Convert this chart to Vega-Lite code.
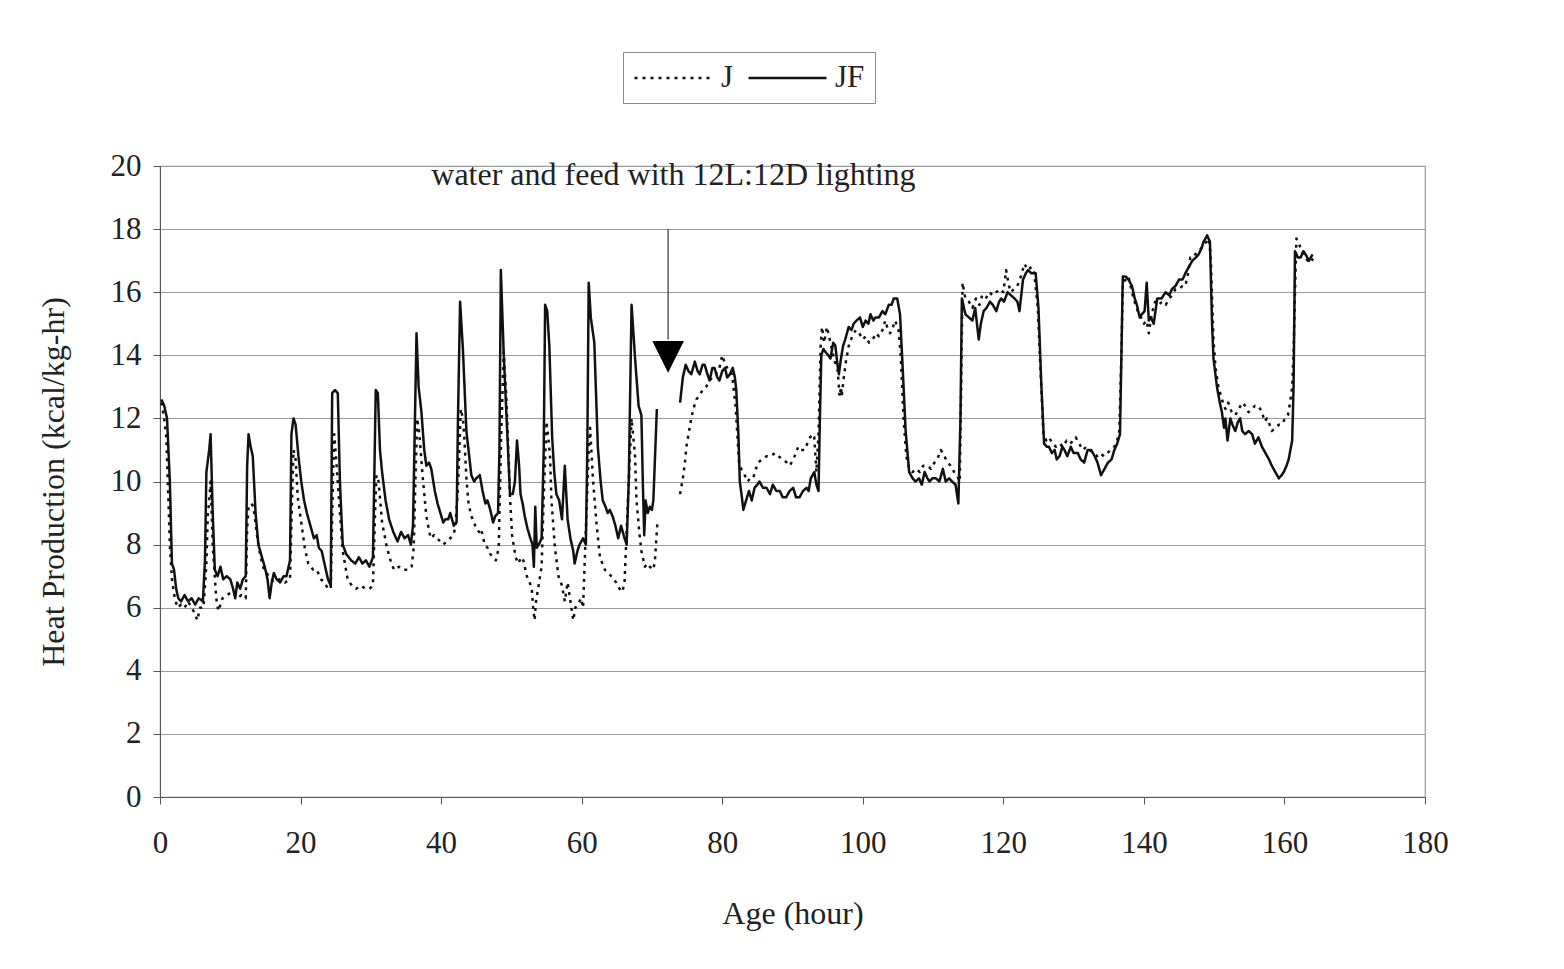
{
  "$schema": "https://vega.github.io/schema/vega-lite/v6.json",
  "autosize": "none",
  "width": 1265,
  "height": 631,
  "padding": {"left": 160, "top": 166, "right": 139, "bottom": 172},
  "background": "white",
  "config": {
    "view": {"stroke": "#999", "strokeWidth": 1.2},
    "font": "Liberation Serif",
    "axis": {
      "labelFont": "Liberation Serif",
      "titleFont": "Liberation Serif",
      "labelFontSize": 31,
      "titleFontSize": 32,
      "titleFontWeight": "normal",
      "labelColor": "#222",
      "titleColor": "#222",
      "domainColor": "#555",
      "tickColor": "#555",
      "tickSize": 7
    },
    "legend": {
      "labelFont": "Liberation Serif",
      "labelFontSize": 31,
      "labelColor": "#222"
    }
  },
  "datasets": {
    "hp": [
{"series":"JF","part":1,"age":0.2,"heat":12.6},{"series":"JF","part":1,"age":0.6,"heat":12.4},{"series":"JF","part":1,"age":1.0,"heat":12.0},{"series":"JF","part":1,"age":1.4,"heat":10.0},{"series":"JF","part":1,"age":1.7,"heat":7.4},{"series":"JF","part":1,"age":2.0,"heat":7.2},{"series":"JF","part":1,"age":2.3,"heat":6.6},{"series":"JF","part":1,"age":2.6,"heat":6.3},{"series":"JF","part":1,"age":3.0,"heat":6.2},{"series":"JF","part":1,"age":3.5,"heat":6.4},{"series":"JF","part":1,"age":4.0,"heat":6.2},{"series":"JF","part":1,"age":4.5,"heat":6.3},{"series":"JF","part":1,"age":5.0,"heat":6.1},{"series":"JF","part":1,"age":5.5,"heat":6.3},{"series":"JF","part":1,"age":6.1,"heat":6.2},{"series":"JF","part":1,"age":6.4,"heat":7.5},{"series":"JF","part":1,"age":6.6,"heat":10.3},{"series":"JF","part":1,"age":7.0,"heat":11.0},{"series":"JF","part":1,"age":7.2,"heat":11.5},{"series":"JF","part":1,"age":7.5,"heat":9.0},{"series":"JF","part":1,"age":7.8,"heat":7.2},{"series":"JF","part":1,"age":8.2,"heat":7.0},{"series":"JF","part":1,"age":8.6,"heat":7.3},{"series":"JF","part":1,"age":9.0,"heat":6.9},{"series":"JF","part":1,"age":9.5,"heat":7.0},{"series":"JF","part":1,"age":10.0,"heat":6.9},{"series":"JF","part":1,"age":10.4,"heat":6.6},{"series":"JF","part":1,"age":10.7,"heat":6.3},{"series":"JF","part":1,"age":11.0,"heat":6.8},{"series":"JF","part":1,"age":11.4,"heat":6.6},{"series":"JF","part":1,"age":11.8,"heat":6.9},{"series":"JF","part":1,"age":12.2,"heat":7.0},{"series":"JF","part":1,"age":12.4,"heat":10.5},{"series":"JF","part":1,"age":12.6,"heat":11.5},{"series":"JF","part":1,"age":12.9,"heat":11.1},{"series":"JF","part":1,"age":13.2,"heat":10.8},{"series":"JF","part":1,"age":13.6,"heat":9.0},{"series":"JF","part":1,"age":14.0,"heat":8.0},{"series":"JF","part":1,"age":14.5,"heat":7.6},{"series":"JF","part":1,"age":14.9,"heat":7.3},{"series":"JF","part":1,"age":15.3,"heat":6.9},{"series":"JF","part":1,"age":15.6,"heat":6.3},{"series":"JF","part":1,"age":15.9,"heat":6.8},{"series":"JF","part":1,"age":16.2,"heat":7.1},{"series":"JF","part":1,"age":16.6,"heat":6.9},{"series":"JF","part":1,"age":17.1,"heat":6.8},{"series":"JF","part":1,"age":17.6,"heat":7.0},{"series":"JF","part":1,"age":18.0,"heat":7.0},{"series":"JF","part":1,"age":18.5,"heat":7.5},{"series":"JF","part":1,"age":18.7,"heat":11.5},{"series":"JF","part":1,"age":19.0,"heat":12.0},{"series":"JF","part":1,"age":19.3,"heat":11.8},{"series":"JF","part":1,"age":19.7,"heat":10.8},{"series":"JF","part":1,"age":20.1,"heat":10.0},{"series":"JF","part":1,"age":20.5,"heat":9.4},{"series":"JF","part":1,"age":20.9,"heat":9.0},{"series":"JF","part":1,"age":21.4,"heat":8.6},{"series":"JF","part":1,"age":21.9,"heat":8.2},{"series":"JF","part":1,"age":22.3,"heat":8.3},{"series":"JF","part":1,"age":22.6,"heat":7.9},{"series":"JF","part":1,"age":23.0,"heat":7.8},{"series":"JF","part":1,"age":23.4,"heat":7.4},{"series":"JF","part":1,"age":23.9,"heat":6.9},{"series":"JF","part":1,"age":24.3,"heat":6.7},{"series":"JF","part":1,"age":24.5,"heat":12.8},{"series":"JF","part":1,"age":24.9,"heat":12.9},{"series":"JF","part":1,"age":25.3,"heat":12.8},{"series":"JF","part":1,"age":25.6,"heat":10.0},{"series":"JF","part":1,"age":26.0,"heat":8.0},{"series":"JF","part":1,"age":26.5,"heat":7.7},{"series":"JF","part":1,"age":27.2,"heat":7.5},{"series":"JF","part":1,"age":27.8,"heat":7.4},{"series":"JF","part":1,"age":28.3,"heat":7.6},{"series":"JF","part":1,"age":28.8,"heat":7.4},{"series":"JF","part":1,"age":29.3,"heat":7.5},{"series":"JF","part":1,"age":29.8,"heat":7.3},{"series":"JF","part":1,"age":30.3,"heat":7.6},{"series":"JF","part":1,"age":30.7,"heat":12.9},{"series":"JF","part":1,"age":31.0,"heat":12.8},{"series":"JF","part":1,"age":31.3,"heat":11.0},{"series":"JF","part":1,"age":31.6,"heat":10.3},{"series":"JF","part":1,"age":32.1,"heat":9.4},{"series":"JF","part":1,"age":32.6,"heat":8.8},{"series":"JF","part":1,"age":33.2,"heat":8.4},{"series":"JF","part":1,"age":33.8,"heat":8.1},{"series":"JF","part":1,"age":34.3,"heat":8.4},{"series":"JF","part":1,"age":34.8,"heat":8.2},{"series":"JF","part":1,"age":35.3,"heat":8.3},{"series":"JF","part":1,"age":35.7,"heat":8.0},{"series":"JF","part":1,"age":36.0,"heat":8.6},{"series":"JF","part":1,"age":36.5,"heat":14.7},{"series":"JF","part":1,"age":36.8,"heat":13.0},{"series":"JF","part":1,"age":37.2,"heat":12.2},{"series":"JF","part":1,"age":37.6,"heat":11.0},{"series":"JF","part":1,"age":37.9,"heat":10.5},{"series":"JF","part":1,"age":38.3,"heat":10.6},{"series":"JF","part":1,"age":38.6,"heat":10.4},{"series":"JF","part":1,"age":39.1,"heat":9.7},{"series":"JF","part":1,"age":39.5,"heat":9.3},{"series":"JF","part":1,"age":39.9,"heat":9.0},{"series":"JF","part":1,"age":40.3,"heat":8.7},{"series":"JF","part":1,"age":40.6,"heat":8.8},{"series":"JF","part":1,"age":41.0,"heat":8.8},{"series":"JF","part":1,"age":41.3,"heat":9.0},{"series":"JF","part":1,"age":41.8,"heat":8.6},{"series":"JF","part":1,"age":42.2,"heat":8.7},{"series":"JF","part":1,"age":42.4,"heat":12.0},{"series":"JF","part":1,"age":42.7,"heat":15.7},{"series":"JF","part":1,"age":43.1,"heat":14.2},{"series":"JF","part":1,"age":43.6,"heat":11.6},{"series":"JF","part":1,"age":44.0,"heat":10.8},{"series":"JF","part":1,"age":44.3,"heat":10.2},{"series":"JF","part":1,"age":44.7,"heat":10.0},{"series":"JF","part":1,"age":45.0,"heat":10.1},{"series":"JF","part":1,"age":45.5,"heat":10.2},{"series":"JF","part":1,"age":45.9,"heat":9.7},{"series":"JF","part":1,"age":46.3,"heat":9.3},{"series":"JF","part":1,"age":46.6,"heat":9.4},{"series":"JF","part":1,"age":47.0,"heat":9.1},{"series":"JF","part":1,"age":47.4,"heat":8.7},{"series":"JF","part":1,"age":47.7,"heat":8.9},{"series":"JF","part":1,"age":48.1,"heat":9.0},{"series":"JF","part":1,"age":48.3,"heat":11.0},{"series":"JF","part":1,"age":48.5,"heat":16.7},{"series":"JF","part":1,"age":48.9,"heat":14.1},{"series":"JF","part":1,"age":49.3,"heat":12.1},{"series":"JF","part":1,"age":49.8,"heat":9.6},{"series":"JF","part":1,"age":50.2,"heat":9.6},{"series":"JF","part":1,"age":50.5,"heat":10.0},{"series":"JF","part":1,"age":50.8,"heat":11.3},{"series":"JF","part":1,"age":51.1,"heat":10.5},{"series":"JF","part":1,"age":51.3,"heat":9.6},{"series":"JF","part":1,"age":51.6,"heat":9.3},{"series":"JF","part":1,"age":51.9,"heat":8.9},{"series":"JF","part":1,"age":52.3,"heat":8.5},{"series":"JF","part":1,"age":52.7,"heat":8.2},{"series":"JF","part":1,"age":53.0,"heat":8.0},{"series":"JF","part":1,"age":53.2,"heat":7.3},{"series":"JF","part":1,"age":53.4,"heat":9.2},{"series":"JF","part":1,"age":53.6,"heat":7.9},{"series":"JF","part":1,"age":53.9,"heat":8.0},{"series":"JF","part":1,"age":54.3,"heat":8.2},{"series":"JF","part":1,"age":54.6,"heat":11.0},{"series":"JF","part":1,"age":54.8,"heat":15.6},{"series":"JF","part":1,"age":55.1,"heat":15.4},{"series":"JF","part":1,"age":55.4,"heat":14.3},{"series":"JF","part":1,"age":55.8,"heat":11.4},{"series":"JF","part":1,"age":56.1,"heat":10.3},{"series":"JF","part":1,"age":56.4,"heat":9.6},{"series":"JF","part":1,"age":56.8,"heat":9.4},{"series":"JF","part":1,"age":57.2,"heat":8.8},{"series":"JF","part":1,"age":57.6,"heat":10.5},{"series":"JF","part":1,"age":58.0,"heat":8.8},{"series":"JF","part":1,"age":58.4,"heat":8.2},{"series":"JF","part":1,"age":58.8,"heat":7.8},{"series":"JF","part":1,"age":59.0,"heat":7.4},{"series":"JF","part":1,"age":59.4,"heat":7.8},{"series":"JF","part":1,"age":59.7,"heat":8.0},{"series":"JF","part":1,"age":60.2,"heat":8.2},{"series":"JF","part":1,"age":60.6,"heat":8.0},{"series":"JF","part":1,"age":60.8,"heat":11.0},{"series":"JF","part":1,"age":61.0,"heat":16.3},{"series":"JF","part":1,"age":61.3,"heat":15.2},{"series":"JF","part":1,"age":61.8,"heat":14.4},{"series":"JF","part":1,"age":62.3,"heat":11.1},{"series":"JF","part":1,"age":62.7,"heat":10.0},{"series":"JF","part":1,"age":63.0,"heat":9.4},{"series":"JF","part":1,"age":63.4,"heat":9.2},{"series":"JF","part":1,"age":63.7,"heat":9.0},{"series":"JF","part":1,"age":64.0,"heat":9.1},{"series":"JF","part":1,"age":64.4,"heat":8.9},{"series":"JF","part":1,"age":64.8,"heat":8.6},{"series":"JF","part":1,"age":65.2,"heat":8.2},{"series":"JF","part":1,"age":65.6,"heat":8.6},{"series":"JF","part":1,"age":66.1,"heat":8.2},{"series":"JF","part":1,"age":66.4,"heat":8.0},{"series":"JF","part":1,"age":66.7,"heat":10.0},{"series":"JF","part":1,"age":67.1,"heat":15.6},{"series":"JF","part":1,"age":67.6,"heat":13.9},{"series":"JF","part":1,"age":68.1,"heat":12.4},{"series":"JF","part":1,"age":68.5,"heat":12.1},{"series":"JF","part":1,"age":68.7,"heat":10.0},{"series":"JF","part":1,"age":68.9,"heat":8.3},{"series":"JF","part":1,"age":69.1,"heat":9.4},{"series":"JF","part":1,"age":69.4,"heat":9.0},{"series":"JF","part":1,"age":69.7,"heat":9.2},{"series":"JF","part":1,"age":70.0,"heat":9.1},{"series":"JF","part":1,"age":70.2,"heat":9.4},{"series":"JF","part":1,"age":70.7,"heat":12.3},
{"series":"JF","part":2,"age":74.0,"heat":12.5},{"series":"JF","part":2,"age":74.4,"heat":13.3},{"series":"JF","part":2,"age":74.8,"heat":13.7},{"series":"JF","part":2,"age":75.2,"heat":13.5},{"series":"JF","part":2,"age":75.6,"heat":13.4},{"series":"JF","part":2,"age":76.1,"heat":13.8},{"series":"JF","part":2,"age":76.5,"heat":13.5},{"series":"JF","part":2,"age":76.8,"heat":13.4},{"series":"JF","part":2,"age":77.2,"heat":13.7},{"series":"JF","part":2,"age":77.5,"heat":13.7},{"series":"JF","part":2,"age":77.9,"heat":13.4},{"series":"JF","part":2,"age":78.2,"heat":13.2},{"series":"JF","part":2,"age":78.6,"heat":13.6},{"series":"JF","part":2,"age":78.9,"heat":13.6},{"series":"JF","part":2,"age":79.3,"heat":13.3},{"series":"JF","part":2,"age":79.6,"heat":13.2},{"series":"JF","part":2,"age":80.0,"heat":13.5},{"series":"JF","part":2,"age":80.4,"heat":13.6},{"series":"JF","part":2,"age":80.7,"heat":13.3},{"series":"JF","part":2,"age":81.1,"heat":13.4},{"series":"JF","part":2,"age":81.5,"heat":13.6},{"series":"JF","part":2,"age":81.8,"heat":13.3},{"series":"JF","part":2,"age":82.0,"heat":12.9},{"series":"JF","part":2,"age":82.3,"heat":11.5},{"series":"JF","part":2,"age":82.5,"heat":10.0},{"series":"JF","part":2,"age":82.8,"heat":9.5},{"series":"JF","part":2,"age":83.0,"heat":9.1},{"series":"JF","part":2,"age":83.4,"heat":9.4},{"series":"JF","part":2,"age":83.8,"heat":9.7},{"series":"JF","part":2,"age":84.2,"heat":9.4},{"series":"JF","part":2,"age":84.6,"heat":9.8},{"series":"JF","part":2,"age":85.0,"heat":9.9},{"series":"JF","part":2,"age":85.3,"heat":10.0},{"series":"JF","part":2,"age":85.8,"heat":9.8},{"series":"JF","part":2,"age":86.3,"heat":9.8},{"series":"JF","part":2,"age":86.8,"heat":9.6},{"series":"JF","part":2,"age":87.2,"heat":9.9},{"series":"JF","part":2,"age":87.7,"heat":9.7},{"series":"JF","part":2,"age":88.2,"heat":9.7},{"series":"JF","part":2,"age":88.6,"heat":9.5},{"series":"JF","part":2,"age":89.1,"heat":9.5},{"series":"JF","part":2,"age":89.6,"heat":9.7},{"series":"JF","part":2,"age":90.1,"heat":9.8},{"series":"JF","part":2,"age":90.5,"heat":9.5},{"series":"JF","part":2,"age":91.0,"heat":9.5},{"series":"JF","part":2,"age":91.5,"heat":9.7},{"series":"JF","part":2,"age":92.0,"heat":9.8},{"series":"JF","part":2,"age":92.3,"heat":9.7},{"series":"JF","part":2,"age":92.6,"heat":10.1},{"series":"JF","part":2,"age":93.1,"heat":10.3},{"series":"JF","part":2,"age":93.4,"heat":9.9},{"series":"JF","part":2,"age":93.7,"heat":9.7},{"series":"JF","part":2,"age":93.9,"heat":12.0},{"series":"JF","part":2,"age":94.1,"heat":14.0},{"series":"JF","part":2,"age":94.4,"heat":14.2},{"series":"JF","part":2,"age":94.7,"heat":14.1},{"series":"JF","part":2,"age":95.1,"heat":14.0},{"series":"JF","part":2,"age":95.4,"heat":13.9},{"series":"JF","part":2,"age":95.8,"heat":14.4},{"series":"JF","part":2,"age":96.1,"heat":14.3},{"series":"JF","part":2,"age":96.4,"heat":13.7},{"series":"JF","part":2,"age":96.6,"heat":13.4},{"series":"JF","part":2,"age":96.9,"heat":13.9},{"series":"JF","part":2,"age":97.2,"heat":14.3},{"series":"JF","part":2,"age":97.5,"heat":14.5},{"series":"JF","part":2,"age":98.0,"heat":14.9},{"series":"JF","part":2,"age":98.4,"heat":14.8},{"series":"JF","part":2,"age":98.7,"heat":15.0},{"series":"JF","part":2,"age":99.1,"heat":15.1},{"series":"JF","part":2,"age":99.6,"heat":15.2},{"series":"JF","part":2,"age":100.0,"heat":14.9},{"series":"JF","part":2,"age":100.4,"heat":15.1},{"series":"JF","part":2,"age":100.8,"heat":15.0},{"series":"JF","part":2,"age":101.1,"heat":15.3},{"series":"JF","part":2,"age":101.5,"heat":15.1},{"series":"JF","part":2,"age":101.8,"heat":15.2},{"series":"JF","part":2,"age":102.3,"heat":15.2},{"series":"JF","part":2,"age":102.8,"heat":15.4},{"series":"JF","part":2,"age":103.2,"heat":15.3},{"series":"JF","part":2,"age":103.7,"heat":15.6},{"series":"JF","part":2,"age":104.1,"heat":15.6},{"series":"JF","part":2,"age":104.4,"heat":15.8},{"series":"JF","part":2,"age":104.9,"heat":15.8},{"series":"JF","part":2,"age":105.3,"heat":15.3},{"series":"JF","part":2,"age":105.7,"heat":13.5},{"series":"JF","part":2,"age":106.1,"heat":11.6},{"series":"JF","part":2,"age":106.6,"heat":10.3},{"series":"JF","part":2,"age":107.1,"heat":10.1},{"series":"JF","part":2,"age":107.5,"heat":10.0},{"series":"JF","part":2,"age":108.0,"heat":10.1},{"series":"JF","part":2,"age":108.4,"heat":9.9},{"series":"JF","part":2,"age":108.8,"heat":10.3},{"series":"JF","part":2,"age":109.2,"heat":10.1},{"series":"JF","part":2,"age":109.5,"heat":10.0},{"series":"JF","part":2,"age":109.9,"heat":10.1},{"series":"JF","part":2,"age":110.4,"heat":10.1},{"series":"JF","part":2,"age":110.9,"heat":10.0},{"series":"JF","part":2,"age":111.4,"heat":10.4},{"series":"JF","part":2,"age":111.8,"heat":10.0},{"series":"JF","part":2,"age":112.3,"heat":10.1},{"series":"JF","part":2,"age":112.7,"heat":10.0},{"series":"JF","part":2,"age":113.2,"heat":9.9},{"series":"JF","part":2,"age":113.6,"heat":9.3},{"series":"JF","part":2,"age":113.9,"heat":12.0},{"series":"JF","part":2,"age":114.1,"heat":15.8},{"series":"JF","part":2,"age":114.4,"heat":15.5},{"series":"JF","part":2,"age":114.6,"heat":15.3},{"series":"JF","part":2,"age":115.1,"heat":15.2},{"series":"JF","part":2,"age":115.6,"heat":15.1},{"series":"JF","part":2,"age":116.0,"heat":15.5},{"series":"JF","part":2,"age":116.5,"heat":14.5},{"series":"JF","part":2,"age":116.8,"heat":15.0},{"series":"JF","part":2,"age":117.2,"heat":15.4},{"series":"JF","part":2,"age":117.6,"heat":15.5},{"series":"JF","part":2,"age":118.1,"heat":15.7},{"series":"JF","part":2,"age":118.5,"heat":15.6},{"series":"JF","part":2,"age":119.0,"heat":15.4},{"series":"JF","part":2,"age":119.4,"heat":15.7},{"series":"JF","part":2,"age":119.7,"heat":15.8},{"series":"JF","part":2,"age":120.1,"heat":15.7},{"series":"JF","part":2,"age":120.6,"heat":16.0},{"series":"JF","part":2,"age":121.1,"heat":15.9},{"series":"JF","part":2,"age":121.6,"heat":15.8},{"series":"JF","part":2,"age":122.0,"heat":15.7},{"series":"JF","part":2,"age":122.3,"heat":15.4},{"series":"JF","part":2,"age":122.8,"heat":16.4},{"series":"JF","part":2,"age":123.2,"heat":16.6},{"series":"JF","part":2,"age":123.5,"heat":16.7},{"series":"JF","part":2,"age":124.0,"heat":16.6},{"series":"JF","part":2,"age":124.6,"heat":16.6},{"series":"JF","part":2,"age":125.0,"heat":15.5},{"series":"JF","part":2,"age":125.4,"heat":13.1},{"series":"JF","part":2,"age":125.8,"heat":11.2},{"series":"JF","part":2,"age":126.2,"heat":11.1},{"series":"JF","part":2,"age":126.5,"heat":11.1},{"series":"JF","part":2,"age":126.9,"heat":10.9},{"series":"JF","part":2,"age":127.3,"heat":11.0},{"series":"JF","part":2,"age":127.6,"heat":10.7},{"series":"JF","part":2,"age":128.0,"heat":10.8},{"series":"JF","part":2,"age":128.4,"heat":11.1},{"series":"JF","part":2,"age":128.7,"heat":11.0},{"series":"JF","part":2,"age":129.1,"heat":10.8},{"series":"JF","part":2,"age":129.6,"heat":11.1},{"series":"JF","part":2,"age":130.0,"heat":10.9},{"series":"JF","part":2,"age":130.6,"heat":10.9},{"series":"JF","part":2,"age":131.0,"heat":10.7},{"series":"JF","part":2,"age":131.5,"heat":10.6},{"series":"JF","part":2,"age":132.0,"heat":11.0},{"series":"JF","part":2,"age":132.5,"heat":11.0},{"series":"JF","part":2,"age":133.0,"heat":10.8},{"series":"JF","part":2,"age":133.4,"heat":10.6},{"series":"JF","part":2,"age":133.9,"heat":10.2},{"series":"JF","part":2,"age":134.4,"heat":10.4},{"series":"JF","part":2,"age":134.9,"heat":10.6},{"series":"JF","part":2,"age":135.4,"heat":10.7},{"series":"JF","part":2,"age":135.8,"heat":11.0},{"series":"JF","part":2,"age":136.2,"heat":11.2},{"series":"JF","part":2,"age":136.6,"heat":11.5},{"series":"JF","part":2,"age":137.0,"heat":16.5},{"series":"JF","part":2,"age":137.4,"heat":16.5},{"series":"JF","part":2,"age":137.8,"heat":16.4},{"series":"JF","part":2,"age":138.3,"heat":16.2},{"series":"JF","part":2,"age":138.7,"heat":15.8},{"series":"JF","part":2,"age":139.0,"heat":15.6},{"series":"JF","part":2,"age":139.4,"heat":15.2},{"series":"JF","part":2,"age":139.7,"heat":15.3},{"series":"JF","part":2,"age":140.1,"heat":15.4},{"series":"JF","part":2,"age":140.4,"heat":16.3},{"series":"JF","part":2,"age":140.7,"heat":15.1},{"series":"JF","part":2,"age":141.0,"heat":15.2},{"series":"JF","part":2,"age":141.4,"heat":15.0},{"series":"JF","part":2,"age":141.9,"heat":15.8},{"series":"JF","part":2,"age":142.5,"heat":15.8},{"series":"JF","part":2,"age":143.1,"heat":16.0},{"series":"JF","part":2,"age":143.6,"heat":15.9},{"series":"JF","part":2,"age":144.0,"heat":16.1},{"series":"JF","part":2,"age":144.5,"heat":16.2},{"series":"JF","part":2,"age":145.0,"heat":16.4},{"series":"JF","part":2,"age":145.5,"heat":16.4},{"series":"JF","part":2,"age":145.9,"heat":16.6},{"series":"JF","part":2,"age":146.4,"heat":16.8},{"series":"JF","part":2,"age":146.9,"heat":17.0},{"series":"JF","part":2,"age":147.4,"heat":17.1},{"series":"JF","part":2,"age":147.8,"heat":17.2},{"series":"JF","part":2,"age":148.2,"heat":17.4},{"series":"JF","part":2,"age":148.5,"heat":17.6},{"series":"JF","part":2,"age":149.0,"heat":17.8},{"series":"JF","part":2,"age":149.4,"heat":17.6},{"series":"JF","part":2,"age":149.7,"heat":15.0},{"series":"JF","part":2,"age":149.9,"heat":13.9},{"series":"JF","part":2,"age":150.4,"heat":13.0},{"series":"JF","part":2,"age":150.8,"heat":12.5},{"series":"JF","part":2,"age":151.1,"heat":12.2},{"series":"JF","part":2,"age":151.4,"heat":11.7},{"series":"JF","part":2,"age":151.6,"heat":12.0},{"series":"JF","part":2,"age":151.9,"heat":11.3},{"series":"JF","part":2,"age":152.3,"heat":12.0},{"series":"JF","part":2,"age":152.6,"heat":11.8},{"series":"JF","part":2,"age":153.0,"heat":11.6},{"series":"JF","part":2,"age":153.4,"heat":11.9},{"series":"JF","part":2,"age":153.7,"heat":12.0},{"series":"JF","part":2,"age":154.0,"heat":11.6},{"series":"JF","part":2,"age":154.4,"heat":11.5},{"series":"JF","part":2,"age":154.9,"heat":11.6},{"series":"JF","part":2,"age":155.4,"heat":11.5},{"series":"JF","part":2,"age":155.8,"heat":11.2},{"series":"JF","part":2,"age":156.3,"heat":11.4},{"series":"JF","part":2,"age":156.8,"heat":11.1},{"series":"JF","part":2,"age":157.3,"heat":10.9},{"series":"JF","part":2,"age":157.8,"heat":10.7},{"series":"JF","part":2,"age":158.2,"heat":10.5},{"series":"JF","part":2,"age":158.7,"heat":10.3},{"series":"JF","part":2,"age":159.2,"heat":10.1},{"series":"JF","part":2,"age":159.6,"heat":10.2},{"series":"JF","part":2,"age":159.9,"heat":10.3},{"series":"JF","part":2,"age":160.3,"heat":10.5},{"series":"JF","part":2,"age":160.6,"heat":10.7},{"series":"JF","part":2,"age":161.1,"heat":11.3},{"series":"JF","part":2,"age":161.3,"heat":13.0},{"series":"JF","part":2,"age":161.5,"heat":17.3},{"series":"JF","part":2,"age":161.9,"heat":17.1},{"series":"JF","part":2,"age":162.3,"heat":17.1},{"series":"JF","part":2,"age":162.7,"heat":17.3},{"series":"JF","part":2,"age":163.0,"heat":17.2},{"series":"JF","part":2,"age":163.5,"heat":17.0},{"series":"JF","part":2,"age":164.0,"heat":17.2},
{"series":"J","part":1,"age":0.2,"heat":12.5},{"series":"J","part":1,"age":0.6,"heat":12.0},{"series":"J","part":1,"age":0.9,"heat":11.4},{"series":"J","part":1,"age":1.2,"heat":9.4},{"series":"J","part":1,"age":1.4,"heat":8.0},{"series":"J","part":1,"age":1.7,"heat":6.9},{"series":"J","part":1,"age":2.1,"heat":6.3},{"series":"J","part":1,"age":2.5,"heat":6.0},{"series":"J","part":1,"age":3.0,"heat":6.1},{"series":"J","part":1,"age":3.5,"heat":6.0},{"series":"J","part":1,"age":4.0,"heat":6.2},{"series":"J","part":1,"age":4.5,"heat":6.0},{"series":"J","part":1,"age":5.0,"heat":5.8},{"series":"J","part":1,"age":5.3,"heat":5.6},{"series":"J","part":1,"age":5.7,"heat":6.0},{"series":"J","part":1,"age":6.2,"heat":6.0},{"series":"J","part":1,"age":6.6,"heat":7.4},{"series":"J","part":1,"age":6.8,"heat":8.9},{"series":"J","part":1,"age":7.0,"heat":9.4},{"series":"J","part":1,"age":7.2,"heat":10.0},{"series":"J","part":1,"age":7.5,"heat":8.0},{"series":"J","part":1,"age":8.0,"heat":6.3},{"series":"J","part":1,"age":8.3,"heat":5.9},{"series":"J","part":1,"age":8.9,"heat":6.3},{"series":"J","part":1,"age":9.5,"heat":6.4},{"series":"J","part":1,"age":10.3,"heat":6.5},{"series":"J","part":1,"age":11.0,"heat":6.3},{"series":"J","part":1,"age":11.6,"heat":6.4},{"series":"J","part":1,"age":12.2,"heat":6.3},{"series":"J","part":1,"age":12.4,"heat":8.5},{"series":"J","part":1,"age":12.6,"heat":9.2},{"series":"J","part":1,"age":13.0,"heat":9.3},{"series":"J","part":1,"age":13.3,"heat":9.2},{"series":"J","part":1,"age":13.8,"heat":8.3},{"series":"J","part":1,"age":14.3,"heat":7.6},{"series":"J","part":1,"age":14.8,"heat":7.2},{"series":"J","part":1,"age":15.5,"heat":7.0},{"series":"J","part":1,"age":16.2,"heat":6.8},{"series":"J","part":1,"age":17.0,"heat":6.9},{"series":"J","part":1,"age":17.8,"heat":6.8},{"series":"J","part":1,"age":18.5,"heat":6.9},{"series":"J","part":1,"age":18.8,"heat":9.5},{"series":"J","part":1,"age":19.0,"heat":11.0},{"series":"J","part":1,"age":19.3,"heat":10.7},{"series":"J","part":1,"age":19.6,"heat":9.5},{"series":"J","part":1,"age":20.1,"heat":8.7},{"series":"J","part":1,"age":20.6,"heat":7.9},{"series":"J","part":1,"age":21.1,"heat":7.4},{"series":"J","part":1,"age":21.8,"heat":7.2},{"series":"J","part":1,"age":22.3,"heat":7.2},{"series":"J","part":1,"age":22.9,"heat":6.9},{"series":"J","part":1,"age":23.4,"heat":6.8},{"series":"J","part":1,"age":23.9,"heat":6.6},{"series":"J","part":1,"age":24.3,"heat":6.6},{"series":"J","part":1,"age":24.6,"heat":10.0},{"series":"J","part":1,"age":24.8,"heat":11.5},{"series":"J","part":1,"age":25.1,"heat":10.6},{"series":"J","part":1,"age":25.5,"heat":9.3},{"series":"J","part":1,"age":26.0,"heat":7.8},{"series":"J","part":1,"age":26.7,"heat":6.9},{"series":"J","part":1,"age":27.3,"heat":6.7},{"series":"J","part":1,"age":27.9,"heat":6.6},{"series":"J","part":1,"age":28.6,"heat":6.7},{"series":"J","part":1,"age":29.2,"heat":6.6},{"series":"J","part":1,"age":29.8,"heat":6.6},{"series":"J","part":1,"age":30.3,"heat":6.7},{"series":"J","part":1,"age":30.6,"heat":9.0},{"series":"J","part":1,"age":30.8,"heat":10.2},{"series":"J","part":1,"age":31.1,"heat":10.0},{"series":"J","part":1,"age":31.6,"heat":8.7},{"series":"J","part":1,"age":32.3,"heat":7.9},{"series":"J","part":1,"age":32.8,"heat":7.5},{"series":"J","part":1,"age":33.3,"heat":7.2},{"series":"J","part":1,"age":34.0,"heat":7.3},{"series":"J","part":1,"age":34.6,"heat":7.2},{"series":"J","part":1,"age":35.3,"heat":7.2},{"series":"J","part":1,"age":35.8,"heat":7.3},{"series":"J","part":1,"age":36.1,"heat":7.9},{"series":"J","part":1,"age":36.4,"heat":10.5},{"series":"J","part":1,"age":36.6,"heat":12.0},{"series":"J","part":1,"age":36.9,"heat":11.5},{"series":"J","part":1,"age":37.4,"heat":10.1},{"series":"J","part":1,"age":37.9,"heat":8.9},{"series":"J","part":1,"age":38.5,"heat":8.2},{"series":"J","part":1,"age":39.0,"heat":8.3},{"series":"J","part":1,"age":39.4,"heat":8.2},{"series":"J","part":1,"age":39.9,"heat":8.1},{"series":"J","part":1,"age":40.3,"heat":8.0},{"series":"J","part":1,"age":40.8,"heat":8.1},{"series":"J","part":1,"age":41.3,"heat":8.2},{"series":"J","part":1,"age":41.7,"heat":8.3},{"series":"J","part":1,"age":42.0,"heat":8.5},{"series":"J","part":1,"age":42.4,"heat":9.8},{"series":"J","part":1,"age":42.8,"heat":12.3},{"series":"J","part":1,"age":43.1,"heat":12.0},{"series":"J","part":1,"age":43.3,"heat":11.4},{"series":"J","part":1,"age":43.6,"heat":10.1},{"series":"J","part":1,"age":43.9,"heat":9.3},{"series":"J","part":1,"age":44.3,"heat":8.9},{"series":"J","part":1,"age":44.7,"heat":8.7},{"series":"J","part":1,"age":45.0,"heat":8.5},{"series":"J","part":1,"age":45.4,"heat":8.4},{"series":"J","part":1,"age":45.7,"heat":8.5},{"series":"J","part":1,"age":46.2,"heat":8.0},{"series":"J","part":1,"age":46.6,"heat":7.9},{"series":"J","part":1,"age":47.0,"heat":7.7},{"series":"J","part":1,"age":47.4,"heat":7.6},{"series":"J","part":1,"age":47.8,"heat":7.5},{"series":"J","part":1,"age":48.2,"heat":7.9},{"series":"J","part":1,"age":48.5,"heat":11.0},{"series":"J","part":1,"age":48.9,"heat":14.1},{"series":"J","part":1,"age":49.3,"heat":12.6},{"series":"J","part":1,"age":49.6,"heat":10.8},{"series":"J","part":1,"age":49.8,"heat":9.5},{"series":"J","part":1,"age":50.1,"heat":8.3},{"series":"J","part":1,"age":50.6,"heat":7.6},{"series":"J","part":1,"age":51.0,"heat":7.4},{"series":"J","part":1,"age":51.4,"heat":7.6},{"series":"J","part":1,"age":51.7,"heat":7.5},{"series":"J","part":1,"age":52.2,"heat":7.0},{"series":"J","part":1,"age":52.6,"heat":6.8},{"series":"J","part":1,"age":52.9,"heat":6.6},{"series":"J","part":1,"age":53.1,"heat":6.0},{"series":"J","part":1,"age":53.3,"heat":5.6},{"series":"J","part":1,"age":53.5,"heat":6.2},{"series":"J","part":1,"age":53.8,"heat":6.6},{"series":"J","part":1,"age":54.3,"heat":7.3},{"series":"J","part":1,"age":54.6,"heat":9.5},{"series":"J","part":1,"age":55.0,"heat":11.9},{"series":"J","part":1,"age":55.2,"heat":11.5},{"series":"J","part":1,"age":55.5,"heat":10.8},{"series":"J","part":1,"age":55.7,"heat":9.4},{"series":"J","part":1,"age":56.2,"heat":7.9},{"series":"J","part":1,"age":56.7,"heat":7.0},{"series":"J","part":1,"age":57.2,"heat":6.7},{"series":"J","part":1,"age":57.6,"heat":6.2},{"series":"J","part":1,"age":58.0,"heat":6.8},{"series":"J","part":1,"age":58.4,"heat":6.2},{"series":"J","part":1,"age":58.8,"heat":5.6},{"series":"J","part":1,"age":59.1,"heat":6.0},{"series":"J","part":1,"age":59.5,"heat":6.1},{"series":"J","part":1,"age":59.9,"heat":6.3},{"series":"J","part":1,"age":60.2,"heat":6.0},{"series":"J","part":1,"age":60.6,"heat":8.5},{"series":"J","part":1,"age":61.0,"heat":11.0},{"series":"J","part":1,"age":61.2,"heat":11.7},{"series":"J","part":1,"age":61.6,"heat":10.1},{"series":"J","part":1,"age":62.1,"heat":8.7},{"series":"J","part":1,"age":62.6,"heat":7.6},{"series":"J","part":1,"age":63.3,"heat":7.2},{"series":"J","part":1,"age":63.8,"heat":7.1},{"series":"J","part":1,"age":64.2,"heat":7.0},{"series":"J","part":1,"age":64.9,"heat":6.8},{"series":"J","part":1,"age":65.4,"heat":6.6},{"series":"J","part":1,"age":65.8,"heat":6.5},{"series":"J","part":1,"age":66.1,"heat":6.8},{"series":"J","part":1,"age":66.6,"heat":9.5},{"series":"J","part":1,"age":67.1,"heat":12.0},{"series":"J","part":1,"age":67.6,"heat":10.8},{"series":"J","part":1,"age":67.8,"heat":9.4},{"series":"J","part":1,"age":68.2,"heat":8.4},{"series":"J","part":1,"age":68.5,"heat":7.8},{"series":"J","part":1,"age":69.0,"heat":7.3},{"series":"J","part":1,"age":69.4,"heat":7.4},{"series":"J","part":1,"age":69.7,"heat":7.3},{"series":"J","part":1,"age":70.1,"heat":7.2},{"series":"J","part":1,"age":70.4,"heat":7.4},{"series":"J","part":1,"age":70.8,"heat":8.8},
{"series":"J","part":2,"age":74.0,"heat":9.6},{"series":"J","part":2,"age":74.4,"heat":10.1},{"series":"J","part":2,"age":74.7,"heat":10.6},{"series":"J","part":2,"age":74.9,"heat":11.1},{"series":"J","part":2,"age":75.2,"heat":11.5},{"series":"J","part":2,"age":75.6,"heat":12.0},{"series":"J","part":2,"age":75.9,"heat":12.3},{"series":"J","part":2,"age":76.3,"heat":12.6},{"series":"J","part":2,"age":76.7,"heat":12.7},{"series":"J","part":2,"age":77.2,"heat":12.9},{"series":"J","part":2,"age":77.7,"heat":13.0},{"series":"J","part":2,"age":78.2,"heat":13.2},{"series":"J","part":2,"age":78.6,"heat":13.3},{"series":"J","part":2,"age":79.1,"heat":13.4},{"series":"J","part":2,"age":79.6,"heat":13.6},{"series":"J","part":2,"age":80.0,"heat":14.0},{"series":"J","part":2,"age":80.3,"heat":13.8},{"series":"J","part":2,"age":80.7,"heat":13.6},{"series":"J","part":2,"age":81.0,"heat":13.5},{"series":"J","part":2,"age":81.4,"heat":13.4},{"series":"J","part":2,"age":81.9,"heat":12.4},{"series":"J","part":2,"age":82.2,"heat":11.3},{"series":"J","part":2,"age":82.4,"heat":10.6},{"series":"J","part":2,"age":82.7,"heat":10.4},{"series":"J","part":2,"age":83.0,"heat":10.3},{"series":"J","part":2,"age":83.6,"heat":10.0},{"series":"J","part":2,"age":84.0,"heat":10.1},{"series":"J","part":2,"age":84.4,"heat":10.1},{"series":"J","part":2,"age":84.8,"heat":10.4},{"series":"J","part":2,"age":85.1,"heat":10.6},{"series":"J","part":2,"age":85.7,"heat":10.7},{"series":"J","part":2,"age":86.3,"heat":10.8},{"series":"J","part":2,"age":86.9,"heat":10.8},{"series":"J","part":2,"age":87.5,"heat":10.9},{"series":"J","part":2,"age":88.0,"heat":10.8},{"series":"J","part":2,"age":88.6,"heat":10.7},{"series":"J","part":2,"age":89.2,"heat":10.6},{"series":"J","part":2,"age":89.6,"heat":10.5},{"series":"J","part":2,"age":90.1,"heat":10.7},{"series":"J","part":2,"age":90.5,"heat":10.9},{"series":"J","part":2,"age":90.8,"heat":11.1},{"series":"J","part":2,"age":91.2,"heat":11.0},{"series":"J","part":2,"age":91.7,"heat":11.0},{"series":"J","part":2,"age":92.1,"heat":11.2},{"series":"J","part":2,"age":92.5,"heat":11.4},{"series":"J","part":2,"age":92.9,"heat":11.5},{"series":"J","part":2,"age":93.1,"heat":11.4},{"series":"J","part":2,"age":93.4,"heat":10.3},{"series":"J","part":2,"age":93.7,"heat":11.5},{"series":"J","part":2,"age":94.0,"heat":14.3},{"series":"J","part":2,"age":94.2,"heat":14.9},{"series":"J","part":2,"age":94.5,"heat":14.4},{"series":"J","part":2,"age":94.9,"heat":14.9},{"series":"J","part":2,"age":95.3,"heat":14.5},{"series":"J","part":2,"age":95.7,"heat":14.1},{"series":"J","part":2,"age":96.0,"heat":13.8},{"series":"J","part":2,"age":96.4,"heat":13.6},{"series":"J","part":2,"age":96.7,"heat":12.7},{"series":"J","part":2,"age":96.9,"heat":13.0},{"series":"J","part":2,"age":97.0,"heat":12.7},{"series":"J","part":2,"age":97.3,"heat":13.3},{"series":"J","part":2,"age":97.6,"heat":13.8},{"series":"J","part":2,"age":98.0,"heat":14.3},{"series":"J","part":2,"age":98.5,"heat":14.6},{"series":"J","part":2,"age":99.0,"heat":14.8},{"series":"J","part":2,"age":99.5,"heat":14.7},{"series":"J","part":2,"age":100.0,"heat":14.5},{"series":"J","part":2,"age":100.4,"heat":14.6},{"series":"J","part":2,"age":100.9,"heat":14.4},{"series":"J","part":2,"age":101.4,"heat":14.5},{"series":"J","part":2,"age":101.9,"heat":14.7},{"series":"J","part":2,"age":102.3,"heat":14.6},{"series":"J","part":2,"age":102.8,"heat":14.8},{"series":"J","part":2,"age":103.2,"heat":15.1},{"series":"J","part":2,"age":103.6,"heat":14.8},{"series":"J","part":2,"age":103.9,"heat":14.7},{"series":"J","part":2,"age":104.3,"heat":14.9},{"series":"J","part":2,"age":104.6,"heat":15.1},{"series":"J","part":2,"age":105.1,"heat":14.8},{"series":"J","part":2,"age":105.4,"heat":14.0},{"series":"J","part":2,"age":105.8,"heat":12.0},{"series":"J","part":2,"age":106.2,"heat":10.8},{"series":"J","part":2,"age":106.6,"heat":10.4},{"series":"J","part":2,"age":107.1,"heat":10.3},{"series":"J","part":2,"age":107.6,"heat":10.4},{"series":"J","part":2,"age":108.1,"heat":10.3},{"series":"J","part":2,"age":108.6,"heat":10.5},{"series":"J","part":2,"age":109.2,"heat":10.5},{"series":"J","part":2,"age":109.7,"heat":10.4},{"series":"J","part":2,"age":110.2,"heat":10.6},{"series":"J","part":2,"age":110.6,"heat":10.7},{"series":"J","part":2,"age":111.1,"heat":11.0},{"series":"J","part":2,"age":111.6,"heat":10.8},{"series":"J","part":2,"age":112.1,"heat":10.6},{"series":"J","part":2,"age":112.5,"heat":10.5},{"series":"J","part":2,"age":113.0,"heat":10.3},{"series":"J","part":2,"age":113.4,"heat":10.2},{"series":"J","part":2,"age":113.8,"heat":10.0},{"series":"J","part":2,"age":114.0,"heat":13.0},{"series":"J","part":2,"age":114.2,"heat":16.3},{"series":"J","part":2,"age":114.6,"heat":15.8},{"series":"J","part":2,"age":115.1,"heat":15.7},{"series":"J","part":2,"age":115.6,"heat":15.5},{"series":"J","part":2,"age":116.1,"heat":15.8},{"series":"J","part":2,"age":116.6,"heat":15.6},{"series":"J","part":2,"age":117.0,"heat":15.9},{"series":"J","part":2,"age":117.5,"heat":15.8},{"series":"J","part":2,"age":118.0,"heat":16.0},{"series":"J","part":2,"age":118.5,"heat":15.9},{"series":"J","part":2,"age":119.0,"heat":16.0},{"series":"J","part":2,"age":119.5,"heat":16.1},{"series":"J","part":2,"age":120.0,"heat":16.0},{"series":"J","part":2,"age":120.4,"heat":16.7},{"series":"J","part":2,"age":120.8,"heat":16.2},{"series":"J","part":2,"age":121.1,"heat":16.0},{"series":"J","part":2,"age":121.5,"heat":16.1},{"series":"J","part":2,"age":122.0,"heat":16.2},{"series":"J","part":2,"age":122.5,"heat":16.5},{"series":"J","part":2,"age":123.0,"heat":16.9},{"series":"J","part":2,"age":123.5,"heat":16.7},{"series":"J","part":2,"age":124.0,"heat":16.8},{"series":"J","part":2,"age":124.4,"heat":16.6},{"series":"J","part":2,"age":124.9,"heat":15.5},{"series":"J","part":2,"age":125.3,"heat":13.5},{"series":"J","part":2,"age":125.7,"heat":11.5},{"series":"J","part":2,"age":126.1,"heat":11.3},{"series":"J","part":2,"age":126.5,"heat":11.4},{"series":"J","part":2,"age":127.0,"heat":11.2},{"series":"J","part":2,"age":127.5,"heat":11.1},{"series":"J","part":2,"age":128.0,"heat":11.2},{"series":"J","part":2,"age":128.5,"heat":11.1},{"series":"J","part":2,"age":129.0,"heat":11.3},{"series":"J","part":2,"age":129.5,"heat":11.2},{"series":"J","part":2,"age":130.0,"heat":11.3},{"series":"J","part":2,"age":130.3,"heat":11.4},{"series":"J","part":2,"age":130.8,"heat":11.2},{"series":"J","part":2,"age":131.3,"heat":11.0},{"series":"J","part":2,"age":131.8,"heat":11.1},{"series":"J","part":2,"age":132.3,"heat":11.0},{"series":"J","part":2,"age":132.8,"heat":10.9},{"series":"J","part":2,"age":133.3,"heat":10.8},{"series":"J","part":2,"age":133.8,"heat":10.9},{"series":"J","part":2,"age":134.3,"heat":10.8},{"series":"J","part":2,"age":134.8,"heat":10.9},{"series":"J","part":2,"age":135.3,"heat":11.0},{"series":"J","part":2,"age":135.8,"heat":11.1},{"series":"J","part":2,"age":136.2,"heat":11.3},{"series":"J","part":2,"age":136.5,"heat":11.6},{"series":"J","part":2,"age":136.8,"heat":14.0},{"series":"J","part":2,"age":137.0,"heat":16.3},{"series":"J","part":2,"age":137.4,"heat":16.4},{"series":"J","part":2,"age":137.8,"heat":16.5},{"series":"J","part":2,"age":138.3,"heat":16.0},{"series":"J","part":2,"age":138.8,"heat":15.6},{"series":"J","part":2,"age":139.3,"heat":15.3},{"series":"J","part":2,"age":139.6,"heat":15.2},{"series":"J","part":2,"age":140.0,"heat":15.0},{"series":"J","part":2,"age":140.4,"heat":15.1},{"series":"J","part":2,"age":140.7,"heat":14.7},{"series":"J","part":2,"age":141.1,"heat":15.3},{"series":"J","part":2,"age":141.6,"heat":15.7},{"series":"J","part":2,"age":142.1,"heat":15.6},{"series":"J","part":2,"age":142.6,"heat":15.7},{"series":"J","part":2,"age":143.1,"heat":15.6},{"series":"J","part":2,"age":143.6,"heat":15.8},{"series":"J","part":2,"age":144.0,"heat":15.9},{"series":"J","part":2,"age":144.5,"heat":16.1},{"series":"J","part":2,"age":145.0,"heat":16.1},{"series":"J","part":2,"age":145.5,"heat":16.2},{"series":"J","part":2,"age":145.9,"heat":16.2},{"series":"J","part":2,"age":146.3,"heat":16.6},{"series":"J","part":2,"age":146.6,"heat":17.1},{"series":"J","part":2,"age":147.0,"heat":17.1},{"series":"J","part":2,"age":147.3,"heat":17.2},{"series":"J","part":2,"age":147.8,"heat":17.3},{"series":"J","part":2,"age":148.2,"heat":17.4},{"series":"J","part":2,"age":148.5,"heat":17.5},{"series":"J","part":2,"age":148.9,"heat":17.6},{"series":"J","part":2,"age":149.2,"heat":17.7},{"series":"J","part":2,"age":149.5,"heat":17.2},{"series":"J","part":2,"age":149.9,"heat":14.5},{"series":"J","part":2,"age":150.2,"heat":13.6},{"series":"J","part":2,"age":150.6,"heat":13.0},{"series":"J","part":2,"age":151.1,"heat":12.6},{"series":"J","part":2,"age":151.6,"heat":12.3},{"series":"J","part":2,"age":152.0,"heat":12.5},{"series":"J","part":2,"age":152.5,"heat":12.2},{"series":"J","part":2,"age":153.0,"heat":12.1},{"series":"J","part":2,"age":153.5,"heat":12.3},{"series":"J","part":2,"age":154.0,"heat":12.5},{"series":"J","part":2,"age":154.4,"heat":12.4},{"series":"J","part":2,"age":154.9,"heat":12.2},{"series":"J","part":2,"age":155.4,"heat":12.3},{"series":"J","part":2,"age":155.8,"heat":12.4},{"series":"J","part":2,"age":156.3,"heat":12.4},{"series":"J","part":2,"age":156.8,"heat":12.2},{"series":"J","part":2,"age":157.2,"heat":11.9},{"series":"J","part":2,"age":157.5,"heat":12.0},{"series":"J","part":2,"age":157.9,"heat":11.8},{"series":"J","part":2,"age":158.2,"heat":11.6},{"series":"J","part":2,"age":158.7,"heat":11.7},{"series":"J","part":2,"age":159.2,"heat":11.8},{"series":"J","part":2,"age":159.6,"heat":11.8},{"series":"J","part":2,"age":160.1,"heat":12.0},{"series":"J","part":2,"age":160.5,"heat":12.1},{"series":"J","part":2,"age":160.8,"heat":12.5},{"series":"J","part":2,"age":161.1,"heat":13.0},{"series":"J","part":2,"age":161.3,"heat":14.1},{"series":"J","part":2,"age":161.5,"heat":16.0},{"series":"J","part":2,"age":161.7,"heat":17.7},{"series":"J","part":2,"age":162.0,"heat":17.6},{"series":"J","part":2,"age":162.4,"heat":17.3},{"series":"J","part":2,"age":162.8,"heat":17.2},{"series":"J","part":2,"age":163.3,"heat":17.0},{"series":"J","part":2,"age":163.7,"heat":17.1},{"series":"J","part":2,"age":164.1,"heat":17.0}
    ],
    "note": [{"label": "water and feed with 12L:12D lighting", "age": 38.6, "heat": 19.7}],
    "arrow": [{"age": 72.3, "top": 18.0, "bottom": 14.5, "tip": 13.95}]
  },
  "layer": [
    {
      "data": {"name": "hp"},
      "mark": {"type": "line", "strokeWidth": 2.5, "color": "#111", "strokeCap": "butt", "strokeJoin": "round"},
      "encoding": {
        "x": {"field": "age", "type": "quantitative", "scale": {"domain": [0, 180], "nice": false},
          "axis": {"title": "Age (hour)", "values": [0, 20, 40, 60, 80, 100, 120, 140, 160, 180], "grid": false, "labelPadding": 24, "titlePadding": 40, "labelFlush": false}},
        "y": {"field": "heat", "type": "quantitative", "scale": {"domain": [0, 20], "nice": false},
          "axis": {"title": "Heat Production (kcal/kg-hr)", "values": [0, 2, 4, 6, 8, 10, 12, 14, 16, 18, 20], "grid": true, "gridColor": "#999", "gridWidth": 1.2, "labelPadding": 12, "titlePadding": 40, "labelFlush": false}},
        "strokeDash": {"field": "series", "type": "nominal",
          "scale": {"domain": ["J", "JF"], "range": [[3, 5], [1, 0]]},
          "legend": {"title": null, "orient": "none", "legendX": 463, "legendY": -114, "direction": "horizontal",
            "symbolType": "stroke", "symbolSize": 6084, "symbolStrokeWidth": 2.4, "symbolStrokeColor": "#111",
            "labelOffset": 7, "columnPadding": 9, "padding": 10, "strokeColor": "#888", "fillColor": "white",
            "encode": {
              "symbols": {"update": {"y": {"value": 16}, "strokeDash": {"signal": "datum.value == 'J' ? [4, 9] : [1, 0]"}}},
              "labels": {"update": {"y": {"value": 16}}}}}},
        "detail": {"field": "part", "type": "nominal"},
        "order": {"field": "age", "type": "quantitative"}
      }
    },
    {
      "data": {"name": "note"},
      "mark": {"type": "text", "align": "left", "baseline": "middle", "fontSize": 32, "font": "Liberation Serif", "color": "#222"},
      "encoding": {
        "x": {"field": "age", "type": "quantitative"},
        "y": {"field": "heat", "type": "quantitative"},
        "text": {"field": "label"}
      }
    },
    {
      "data": {"name": "arrow"},
      "mark": {"type": "rule", "color": "#444", "strokeWidth": 1.3},
      "encoding": {
        "x": {"field": "age", "type": "quantitative"},
        "y": {"field": "top", "type": "quantitative"},
        "y2": {"field": "bottom"}
      }
    },
    {
      "data": {"name": "arrow"},
      "mark": {"type": "point", "shape": "M-1,-1L1,-1L0,1Z", "filled": true, "color": "#000", "size": 1000, "opacity": 1},
      "encoding": {
        "x": {"field": "age", "type": "quantitative"},
        "y": {"field": "tip", "type": "quantitative"}
      }
    }
  ]
}
